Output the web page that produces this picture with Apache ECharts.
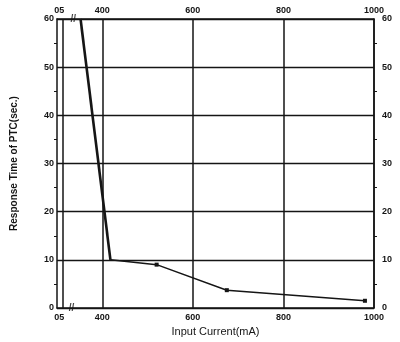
<!DOCTYPE html>
<html>
<head>
<meta charset="utf-8">
<script src="https://cdn.jsdelivr.net/npm/echarts@6/dist/echarts.min.js"></script>
<style>
  html, body { margin: 0; padding: 0; background: #fff; }
  #chart { width: 400px; height: 342px; }
</style>
</head>
<body>
<div id="chart"></div>
<script>
// steep part of the curve (thick) and the flat tail with markers
const steepCurrent = [352, 418]
const steepTime = [60, 10]
const tailCurrent = [418, 520, 675, 980]
const tailTime = [10, 9, 3.7, 1.5]

const xLabelValues = [305, 400, 600, 800, 1000]
const xLineValues = [313, 400, 600, 800, 1000]
const xLabelText = { 305: '05', 400: '400', 600: '600', 800: '800', 1000: '1000' }

// axis break marks
const breakMarks = [[336, 60], [332, 0]]

const ink = '#151515'
const labelFont = { color: ink, fontSize: 9, fontWeight: 'bold', fontFamily: 'Liberation Sans, Arial, sans-serif' }

const chart = echarts.init(document.getElementById('chart'))

const xAxisBase = (position) => ({
  type: 'value',
  position: position,
  min: 300,
  max: 1000,
  axisLine: { show: true, onZero: false, lineStyle: { color: ink, width: 1.5 } },
  axisTick: { show: false, customValues: xLineValues },
  splitLine: { show: position === 'bottom', lineStyle: { color: ink, width: 1.5 } },
  axisLabel: Object.assign({
    customValues: xLabelValues,
    margin: position === 'bottom' ? 5 : 4,
    formatter: v => xLabelText[v] || ''
  }, labelFont)
})

const yAxisBase = (position) => ({
  type: 'value',
  position: position,
  min: 0,
  max: 60,
  interval: 10,
  axisLine: { show: true, lineStyle: { color: ink, width: 1.5 } },
  axisTick: { show: false },
  minorTick: { show: true, splitNumber: 2, length: 3, lineStyle: { color: ink, width: 1 } },
  splitLine: { show: position === 'left', lineStyle: { color: ink, width: 1.3 } },
  axisLabel: Object.assign({ margin: position === 'left' ? 3 : 8 }, labelFont)
})

const option = {
  animation: false,
  grid: { left: 57, right: 26, top: 19, bottom: 34, outerBoundsMode: 'none' },
  xAxis: [
    Object.assign(xAxisBase('bottom'), {
      name: 'Input Current(mA)',
      nameLocation: 'middle',
      nameGap: 16,
      nameTextStyle: { color: ink, fontSize: 11, fontFamily: 'Liberation Sans, Arial, sans-serif' }
    }),
    xAxisBase('top')
  ],
  yAxis: [
    Object.assign(yAxisBase('left'), {
      name: 'Response Time of PTC(sec.)',
      nameLocation: 'middle',
      nameRotate: 90,
      nameGap: 38,
      nameTextStyle: { color: ink, fontSize: 10, fontWeight: 'bold', fontFamily: 'Liberation Sans, Arial, sans-serif' }
    }),
    yAxisBase('right')
  ],
  series: [
    {
      type: 'line',
      data: steepCurrent.map((c, i) => [c, steepTime[i]]),
      symbol: 'none',
      lineStyle: { color: ink, width: 2.6 }
    },
    {
      type: 'line',
      data: tailCurrent.map((c, i) => [c, tailTime[i]]),
      symbol: (v, p) => p.dataIndex === 0 ? 'none' : 'rect',
      symbolSize: 4,
      itemStyle: { color: ink },
      lineStyle: { color: ink, width: 1.5 }
    },
    {
      type: 'scatter',
      data: breakMarks,
      clip: false,
      symbolSize: 1,
      itemStyle: { color: 'rgba(0,0,0,0)' },
      label: { show: true, position: 'inside', formatter: '//', color: ink, fontSize: 10, fontWeight: 'bold' },
      silent: true
    }
  ]
}

chart.setOption(option)
</script>
</body>
</html>
